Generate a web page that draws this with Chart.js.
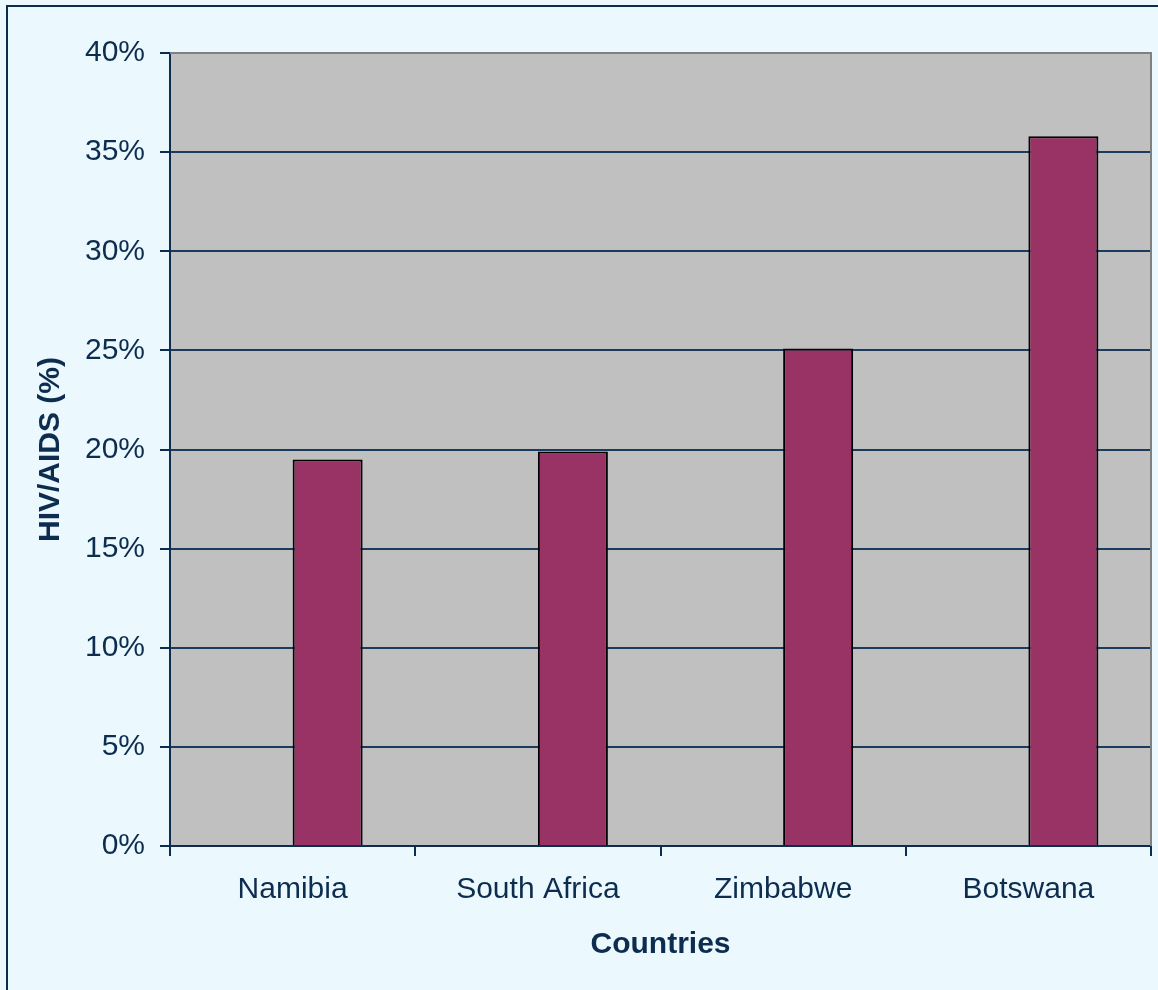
<!DOCTYPE html>
<html>
<head>
<meta charset="utf-8">
<title>HIV/AIDS prevalence by country</title>
<script src="https://cdn.jsdelivr.net/npm/chart.js@4/dist/chart.umd.min.js"></script>
<style>
  html, body { margin: 0; padding: 0; background: #ebf9ff; overflow: hidden; }
  #frame {
    position: absolute; left: 6px; top: 5px; width: 1200px; height: 1100px;
    border-left: 2px solid #0c2c4c; border-top: 2px solid #0c2c4c;
  }
  #chart { position: absolute; left: 0; top: 0; }
</style>
</head>
<body>
<div id="frame"></div>
<canvas id="chart" width="1158" height="990"></canvas>
<script>
// prevalence per country, in percent
const countries = ['Namibia', 'South Africa', 'Zimbabwe', 'Botswana'];
const prevalence = [19.5, 19.9, 25.1, 35.8];
// second series slot is left empty, so each bar sits right of its category centre
const emptySeries = [null, null, null, null];
const yTicks = [0, 5, 10, 15, 20, 25, 30, 35, 40];

const NAVY = '#0d2d4f';
const GRID = '#1a3b5e';
const FONT = "'Liberation Sans', Arial, sans-serif";

// grey plot area with grey top/right edges
const plotArea = {
  id: 'plotArea',
  beforeDraw(chart) {
    const { ctx, chartArea: a } = chart;
    ctx.save();
    ctx.fillStyle = '#c0c0c0';
    ctx.fillRect(a.left, a.top, a.right - a.left, a.bottom - a.top);
    ctx.restore();
  },
  beforeDatasetsDraw(chart) {
    const { ctx, chartArea: a } = chart;
    ctx.save();
    ctx.strokeStyle = '#808080';
    ctx.lineWidth = 2;
    ctx.beginPath();
    ctx.moveTo(a.left, a.top);
    ctx.lineTo(a.right, a.top);
    ctx.lineTo(a.right, a.bottom);
    ctx.stroke();
    ctx.restore();
  }
};

new Chart(document.getElementById('chart'), {
  type: 'bar',
  data: {
    labels: countries,
    datasets: [
      { label: '', data: emptySeries },
      {
        label: 'HIV/AIDS (%)',
        data: prevalence,
        backgroundColor: '#993366',
        borderColor: '#000000',
        borderWidth: 2,
        borderSkipped: 'bottom'
      }
    ]
  },
  options: {
    responsive: false,
    animation: false,
    layout: { padding: { top: 53, right: 7, left: 0, bottom: 0 } },
    datasets: { bar: { categoryPercentage: 0.571, barPercentage: 1 } },
    plugins: { legend: { display: false }, tooltip: { enabled: false } },
    scales: {
      x: {
        afterFit(s) { s.height = 144; },
        grid: { drawOnChartArea: false, color: NAVY, lineWidth: 2, tickLength: 10, offset: true },
        border: { color: NAVY, width: 2 },
        ticks: { color: NAVY, padding: 16, font: { family: FONT, size: 30 } },
        title: {
          display: true, text: 'Countries', color: NAVY,
          font: { family: FONT, size: 30, weight: 'bold' },
          padding: { top: 0, bottom: 27 }
        }
      },
      y: {
        min: 0, max: 40,
        afterFit(s) { s.width = 170; },
        afterBuildTicks(s) { s.ticks = yTicks.map(v => ({ value: v })); },
        grid: {
          color: c => (c.tick && c.tick.value === 40 ? 'rgba(0,0,0,0)' : GRID),
          lineWidth: 2, tickColor: NAVY, tickLength: 10
        },
        border: { color: NAVY, width: 2 },
        ticks: {
          color: NAVY, padding: 15, font: { family: FONT, size: 30 },
          callback: v => v + '%'
        },
        title: {
          display: true, text: 'HIV/AIDS (%)', color: NAVY,
          font: { family: FONT, size: 30, weight: 'bold' },
          padding: { top: 33, bottom: 0 }
        }
      }
    }
  },
  plugins: [plotArea]
});
</script>
</body>
</html>
